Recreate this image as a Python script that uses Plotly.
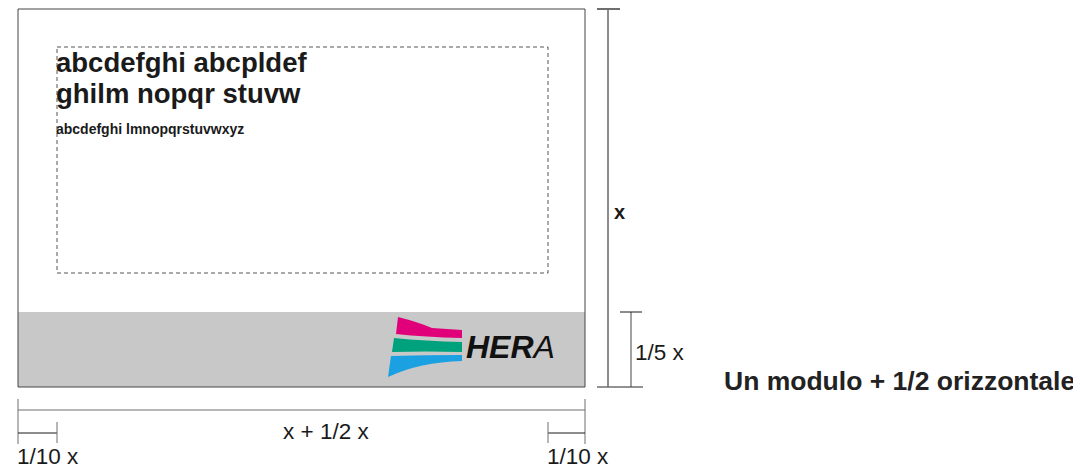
import plotly.graph_objects as go

# --- content ---
heading_lines = ["abcdefghi abcpldef", "ghilm nopqr stuvw"]
body_text = "abcdefghi lmnopqrstuvwxyz"
dim_labels = {"height": "x", "band": "1/5 x", "width": "x + 1/2 x", "margin": "1/10 x"}
caption = "Un modulo + 1/2 orizzontale"
logo_word = ["HER", "A"]

# --- geometry (pixel space of the 1081x470 canvas) ---
W, H = 1081, 470
OFF = 8  # default page body margin
card = dict(x0=18, x1=585, y0=9, y1=387)
band_top = 312
safe = dict(x0=57, x1=548, y0=47, y1=273)

FONT = "Liberation Sans, Arial, Helvetica, sans-serif"
LINE = "#1a1a1a"
GREY_LINE = "#6e6e6e"

shapes = []
def line(x0, y0, x1, y1, color=LINE, width=1):
    shapes.append(dict(type="line", x0=x0, y0=y0, x1=x1, y1=y1, xref="x", yref="y",
                       line=dict(color=color, width=width)))

# grey band + card
shapes.append(dict(type="rect", x0=card["x0"], x1=card["x1"], y0=band_top, y1=card["y1"],
                   xref="x", yref="y", fillcolor="#c8c8c8", line=dict(width=0)))
shapes.append(dict(type="rect", x0=card["x0"], x1=card["x1"], y0=card["y0"], y1=card["y1"],
                   xref="x", yref="y", fillcolor="rgba(0,0,0,0)", line=dict(color="#444", width=1)))
# dashed safe area
shapes.append(dict(type="rect", x0=safe["x0"], x1=safe["x1"], y0=safe["y0"], y1=safe["y1"],
                   xref="x", yref="y", fillcolor="rgba(0,0,0,0)",
                   line=dict(color="#555", width=1, dash="4px,3px")))

# logo stripes
shapes.append(dict(type="path", xref="x", yref="y", fillcolor="#e0007a", line=dict(width=0),
                   path="M 398 317 Q 418 322 432 328 L 462 330 L 462 338 Q 425 337 396 334 Z"))
shapes.append(dict(type="path", xref="x", yref="y", fillcolor="#00a27e", line=dict(width=0),
                   path="M 394 338 Q 425 341 462 342 L 462 352 Q 425 351 392 352 Z"))
shapes.append(dict(type="path", xref="x", yref="y", fillcolor="#1ba1e2", line=dict(width=0),
                   path="M 391 356 Q 425 355 462 355 L 462 361 Q 420 362 388 377 Z"))

# right vertical dimension (x)
line(608, card["y0"], 608, card["y1"])
line(597, card["y0"], 620, card["y0"], color=GREY_LINE, width=2)
line(597, card["y1"], 643, card["y1"], color=GREY_LINE, width=1.5)
# 1/5 x dimension
line(631, band_top, 631, card["y1"], color="#444")
line(620, band_top, 642, band_top)

# bottom horizontal dimension
line(card["x0"], 410, card["x1"], 410, color=GREY_LINE)
line(card["x0"], 399, card["x0"], 444, color=GREY_LINE)
line(card["x1"], 399, card["x1"], 444, color=GREY_LINE)
# 1/10 x marks
line(card["x0"], 433, safe["x0"], 433)
line(safe["x0"], 422, safe["x0"], 443, color=GREY_LINE)
line(safe["x1"], 433, card["x1"], 433)
line(safe["x1"], 422, safe["x1"], 443, color=GREY_LINE)

annotations = []
def text(x, y, s, size, bold=False, anchor="left", color="#1a1a1a", italic=False, family=FONT):
    annotations.append(dict(x=x, y=y, xref="x", yref="y", text=s, showarrow=False,
                            xanchor=anchor, yanchor="middle",
                            font=dict(family=family, size=size, color=color,
                                      weight="bold" if bold else "normal",
                                      style="italic" if italic else "normal")))

text(54, 62, heading_lines[0], 27.5, bold=True)
text(54, 93, heading_lines[1], 27.5, bold=True)
text(54, 129, body_text, 14, bold=True)

text(612, 212, dim_labels["height"], 20, bold=True)
text(633, 352, dim_labels["band"], 22.5)
text(326, 431, dim_labels["width"], 22.5, anchor="center")
text(15, 456, dim_labels["margin"], 22.5)
text(545, 456, dim_labels["margin"], 22.5)
text(1077, 381, caption, 26.5, bold=True, anchor="right", color="#222")

text(464, 347, "<b>" + logo_word[0] + "</b>" + logo_word[1], 32, italic=True,
     family="Liberation Sans Narrow, Arial Narrow, Liberation Sans, sans-serif", color="#111")

fig = go.Figure()
fig.update_layout(
    width=W - OFF, height=H - OFF, margin=dict(l=0, r=0, t=0, b=0),
    paper_bgcolor="white", plot_bgcolor="white",
    xaxis=dict(range=[OFF, W], visible=False, fixedrange=True),
    yaxis=dict(range=[H, OFF], visible=False, fixedrange=True),
    shapes=shapes, annotations=annotations, showlegend=False,
)
fig.write_html("out.html")
